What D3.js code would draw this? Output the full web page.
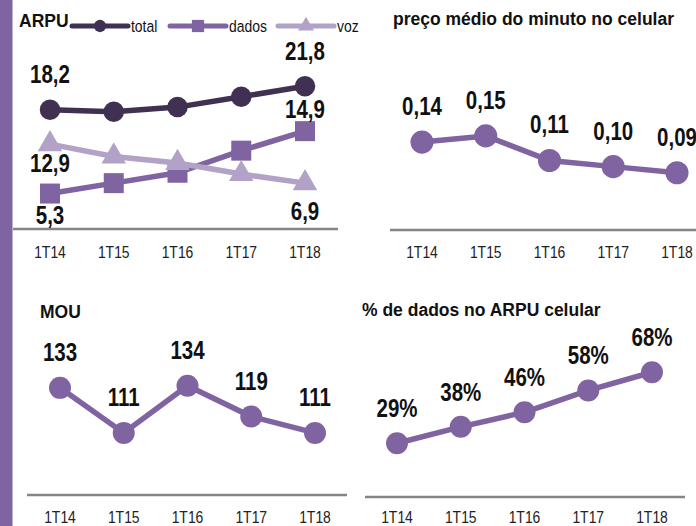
<!DOCTYPE html>
<html>
<head>
<meta charset="utf-8">
<script src="https://cdn.jsdelivr.net/npm/d3@7"></script>
<style>
  html, body { margin: 0; padding: 0; background: #fff; }
  svg { display: block; }
  text { font-family: "Liberation Sans", Arial, sans-serif; }
  .title { font-weight: bold; font-size: 17.5px; fill: #111; }
</style>
</head>
<body>
<script>
const width = 696
const height = 526

// data
const quarters = ['1T14', '1T15', '1T16', '1T17', '1T18']
const arpuTotal = [18.2, 17.9, 18.6, 20.2, 21.8]
const arpuDados = [5.3, 6.9, 8.5, 11.9, 14.9]
const arpuVoz = [12.9, 11.0, 10.0, 8.3, 6.9]
const precoMinuto = [0.14, 0.15, 0.11, 0.10, 0.09]
const mou = [133, 111, 134, 119, 111]
const pctDados = [29, 38, 46, 58, 68]

const purple = '#8064a2'
const dark = '#403152'
const light = '#b3a2c7'
const axisColor = '#858585'
const narrow = 0.82 // no Arial Narrow installed, squeeze Liberation Sans

const fmtComma = (d) => d3.format('.1f')(d).replace('.', ',')
const fmtPrice = (d) => d3.format('.2f')(d).replace('.', ',')

const svg = d3.select('body')
  .append('svg')
  .attr('width', width)
  .attr('height', height)

svg.append('rect')
  .attr('x', 0).attr('y', 0)
  .attr('width', 12.5).attr('height', height)
  .attr('fill', purple)

const drawAxis = (x, y0, x1, x2, tickY) => {
  svg.append('line')
    .attr('x1', x1).attr('x2', x2)
    .attr('y1', y0).attr('y2', y0)
    .attr('stroke', axisColor)
    .attr('stroke-width', 2.5)
  svg.append('g')
    .selectAll('text')
    .data(quarters)
    .enter()
    .append('text')
    .attr('transform', (d) => `translate(${x(d)},${tickY}) scale(${narrow},1)`)
    .attr('text-anchor', 'middle')
    .attr('font-size', 17)
    .attr('fill', '#222')
    .text((d) => d)
}

const drawSeries = (values, x, y, color, marker, size) => {
  const line = d3.line()
    .x((d, i) => x(quarters[i]))
    .y((d) => y(d))
  const g = svg.append('g')
  g.append('path')
    .datum(values)
    .attr('d', line)
    .attr('fill', 'none')
    .attr('stroke', color)
    .attr('stroke-width', 5.5)
  g.selectAll('path.m')
    .data(values)
    .enter()
    .append('path')
    .attr('class', 'm')
    .attr('d', d3.symbol().type(marker).size(size))
    .attr('transform', (d, i) => `translate(${x(quarters[i])},${y(d)})`)
    .attr('fill', color)
  return g
}

// dy: one offset for all, or one per index listed in `only`
const drawLabels = (values, x, y, fmt, dy, only) => {
  const items = values.map((v, i) => ({v, i})).filter((d) => !only || only.includes(d.i))
  svg.append('g')
    .selectAll('text')
    .data(items)
    .enter()
    .append('text')
    .attr('transform', (d) => {
      const off = Array.isArray(dy) ? dy[only.indexOf(d.i)] : dy
      return `translate(${x(quarters[d.i])},${y(d.v) + off}) scale(${narrow},1)`
    })
    .attr('text-anchor', 'middle')
    .attr('font-size', 25)
    .attr('font-weight', 'bold')
    .attr('fill', '#111')
    .text((d) => fmt(d.v))
}

// ---- ARPU ----
{
  const x = d3.scalePoint().domain(quarters).range([50, 305])
  const y = d3.scaleLinear().domain([0, 24]).range([228, 72])
  drawAxis(x, 229, 13, 338, 258)
  drawSeries(arpuTotal, x, y, dark, d3.symbolCircle, 330)
  drawSeries(arpuDados, x, y, purple, d3.symbolSquare, 400)
  drawSeries(arpuVoz, x, y, light, d3.symbolTriangle, 260)
  drawLabels(arpuTotal, x, y, fmtComma, [-27, -26], [0, 4])
  drawLabels(arpuDados, x, y, fmtComma, [30, -13], [0, 4])
  drawLabels(arpuVoz, x, y, fmtComma, [28, 37], [0, 4])

  svg.append('text').attr('class', 'title')
    .attr('x', 19).attr('y', 27).text('ARPU')

  const legend = [
    {name: 'total', color: dark, marker: d3.symbolCircle, size: 120, x: 72},
    {name: 'dados', color: purple, marker: d3.symbolSquare, size: 150, x: 170},
    {name: 'voz', color: light, marker: d3.symbolTriangle, size: 110, x: 278}
  ]
  const lg = svg.selectAll('.legend')
    .data(legend)
    .enter()
    .append('g')
    .attr('transform', (d) => `translate(${d.x},26)`)
  lg.append('line')
    .attr('x1', 0).attr('x2', 56)
    .attr('stroke', (d) => d.color)
    .attr('stroke-width', 5)
    .attr('stroke-linecap', 'round')
  lg.append('path')
    .attr('transform', 'translate(28,0)')
    .attr('d', (d) => d3.symbol().type(d.marker).size(d.size)())
    .attr('fill', (d) => d.color)
  lg.append('text')
    .attr('transform', `translate(59,6) scale(${narrow},1)`)
    .attr('font-size', 17)
    .attr('fill', '#111')
    .text((d) => d.name)
}

// ---- preço médio do minuto ----
{
  const x = d3.scalePoint().domain(quarters).range([422, 677])
  const y = d3.scaleLinear().domain([0, 0.16]).range([228, 129.8])
  drawAxis(x, 230, 390, 696, 258)
  drawSeries(precoMinuto, x, y, purple, d3.symbolCircle, 420)
  drawLabels(precoMinuto, x, y, fmtPrice, -27)
  svg.append('text').attr('class', 'title')
    .attr('x', 393).attr('y', 25).text('preço médio do minuto no celular')
}

// ---- MOU ----
{
  const x = d3.scalePoint().domain(quarters).range([60, 315])
  const y = d3.scaleLinear().domain([80, 140]).range([496.5, 373.5])
  drawAxis(x, 495, 27, 347, 523)
  drawSeries(mou, x, y, purple, d3.symbolCircle, 380)
  drawLabels(mou, x, y, d3.format('d'), -27)
  svg.append('text').attr('class', 'title')
    .attr('x', 40).attr('y', 318).text('MOU')
}

// ---- % de dados no ARPU ----
{
  const x = d3.scalePoint().domain(quarters).range([397, 652])
  const y = d3.scaleLinear().domain([0, 75]).range([496, 359.5])
  drawAxis(x, 497, 365, 685, 523)
  drawSeries(pctDados, x, y, purple, d3.symbolCircle, 380)
  drawLabels(pctDados, x, y, (d) => d + '%', -26)
  svg.append('text').attr('class', 'title')
    .attr('x', 362).attr('y', 316).text('% de dados no ARPU celular')
}
</script>
</body>
</html>
